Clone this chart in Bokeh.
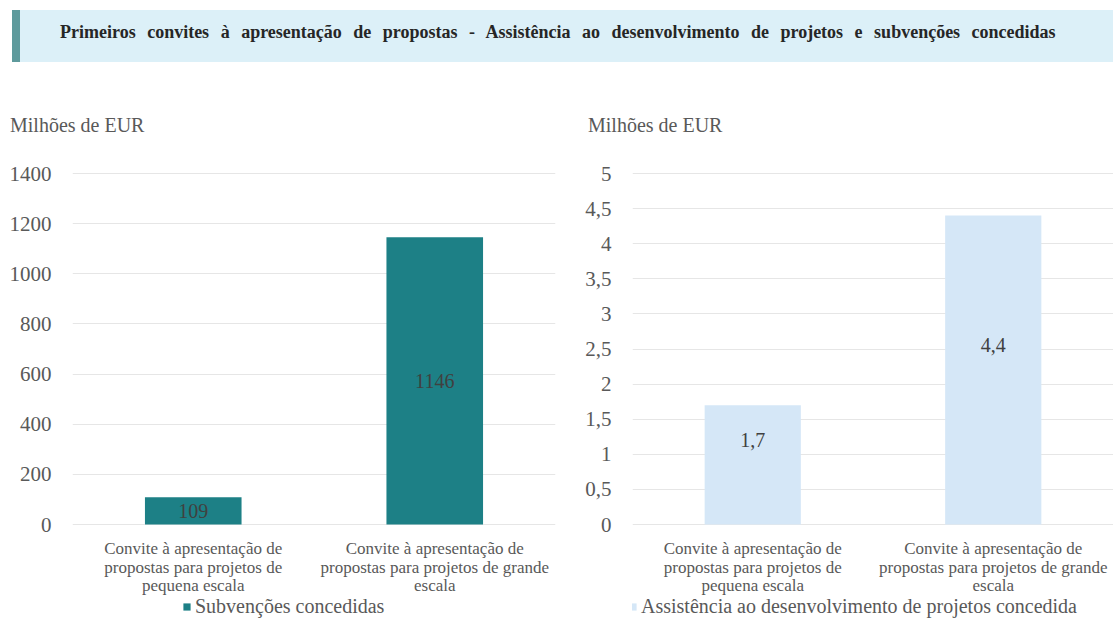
from bokeh.plotting import figure
from bokeh.layouts import column, row
from bokeh.models import (Div, Legend, LegendItem, ColumnDataSource,
                          FixedTicker, CustomJSTickFormatter)
from bokeh.embed import file_html
from bokeh.resources import INLINE
from bokeh.core.properties import value

# ---------------- data ----------------
header_text = ("Primeiros convites à apresentação de propostas - Assistência ao "
               "desenvolvimento de projetos e subvenções concedidas")
unit_label = "Milhões de EUR"
categories = ["pequena", "grande"]
category_labels = [
    ["Convite à apresentação de", "propostas para projetos de", "pequena escala"],
    ["Convite à apresentação de", "propostas para projetos de grande", "escala"],
]
grants = [109, 1146]
grants_text = ["109", "1146"]
grants_name = "Subvenções concedidas"
grants_ticks = [0, 200, 400, 600, 800, 1000, 1200, 1400]

assistance = [1.7, 4.4]
assistance_text = ["1,7", "4,4"]
assistance_name = "Assistência ao desenvolvimento de projetos concedida"
assistance_ticks = [0, 0.5, 1, 1.5, 2, 2.5, 3, 3.5, 4, 4.5, 5]

# ---------------- layout (pixels) ----------------
FONT = "Liberation Serif"
GREY = "#595959"
PAGE_W, PAGE_H = 1113, 618
HEADER_H = 70
UNIT_H = 80
CHART_TOP = HEADER_H + UNIT_H
CHART_H = PAGE_H - CHART_TOP
ZERO_PX = 524 - CHART_TOP       # zero line, from chart top
TOP_TICK_PX = 173 - CHART_TOP   # top grid line, from chart top


def unit_div(width, left_px):
    return Div(text=('<div style="margin-top:45px;margin-left:%dpx;line-height:20px;'
                     "font-family:'Liberation Serif';font-size:20px;color:%s;"
                     'white-space:nowrap;">%s</div>' % (left_px, GREY, unit_label)),
               width=width, height=UNIT_H, margin=0)


def make_chart(values, texts, ticks, name, color, width, b_left, b_right,
               label_shift, y_standoff, legend_x):
    ymax = ticks[-1]
    s = (ZERO_PX - TOP_TICK_PX) / ymax          # px per data unit
    y_top = ZERO_PX / s
    y_bot = -(CHART_H - ZERO_PX) / s

    p = figure(x_range=categories, y_range=(y_bot, y_top), width=width,
               height=CHART_H, output_backend="svg", toolbar_location=None,
               x_axis_location=None,
               min_border_left=b_left, min_border_right=b_right,
               min_border_top=0, min_border_bottom=0)
    p.outline_line_color = None
    p.xgrid.grid_line_color = None
    p.ygrid.ticker = FixedTicker(ticks=ticks)
    p.ygrid.grid_line_color = "#E6E6E6"

    src = ColumnDataSource(dict(cat=categories, val=values, txt=texts,
                                ly=[v / 2 + label_shift for v in values]))
    r = p.vbar(x="cat", top="val", width=0.4, source=src,
               fill_color=color, line_color=None)
    p.text(x="cat", y="ly", text="txt", source=src, text_align="center",
           text_baseline="middle", text_font=value(FONT),
           text_font_size="20px", text_color="#404040")

    # category labels (three lines each) below the zero line
    cx, cy, ct = [], [], []
    for cat, lines in zip(categories, category_labels):
        for i, ln in enumerate(lines):
            cx.append(cat)
            cy.append(-(24 + 18.5 * i) / s)
            ct.append(ln)
    p.text(x=cx, y=cy, text=ct, text_align="center", text_baseline="middle",
           text_font=value(FONT), text_font_size="17px", text_color=GREY)

    ya = p.yaxis[0]
    ya.ticker = FixedTicker(ticks=ticks)
    ya.formatter = CustomJSTickFormatter(code="return tick.toString().replace('.', ',');")
    ya.axis_line_color = None
    ya.major_tick_line_color = None
    ya.minor_tick_line_color = None
    ya.major_label_text_font = FONT
    ya.major_label_text_font_size = "21px"
    ya.major_label_text_color = GREY
    ya.major_label_standoff = y_standoff

    legend = Legend(items=[LegendItem(label=name, renderers=[r])],
                    location=(legend_x - b_left, 0), orientation="horizontal",
                    border_line_color=None, background_fill_alpha=0,
                    padding=0, margin=0, glyph_width=9, glyph_height=9,
                    label_standoff=4, label_height=16, label_text_font=FONT,
                    label_text_font_size="20px", label_text_color=GREY)
    p.add_layout(legend, "center")
    return p


W1 = 560
W2 = PAGE_W - W1
p1 = make_chart(grants, grants_text, grants_ticks, grants_name, "#1D8086",
                W1, 72, 5, 0, 15, 182)
p2 = make_chart(assistance, assistance_text, assistance_ticks, assistance_name,
                "#D5E7F7", W2, 72, 0, 0.35, 15, 68)

header = Div(
    text=('<div style="margin-left:12px;margin-top:10px;width:1101px;height:52px;'
          'background:#DCF0F8;border-left:8px solid #5E9A9C;box-sizing:border-box;'
          'padding-left:40px;line-height:44px;white-space:nowrap;'
          "font-family:'Liberation Serif';font-weight:bold;font-size:18px;"
          'word-spacing:7px;color:#262626;">' + header_text + '</div>'),
    width=PAGE_W, height=HEADER_H, margin=0)

left = column(unit_div(W1, 10), p1, spacing=0)
right = column(unit_div(W2, 28), p2, spacing=0)
layout = column(header, row(left, right, spacing=0), spacing=0)

with open("out.html", "w") as f:
    f.write(file_html(layout, INLINE))
